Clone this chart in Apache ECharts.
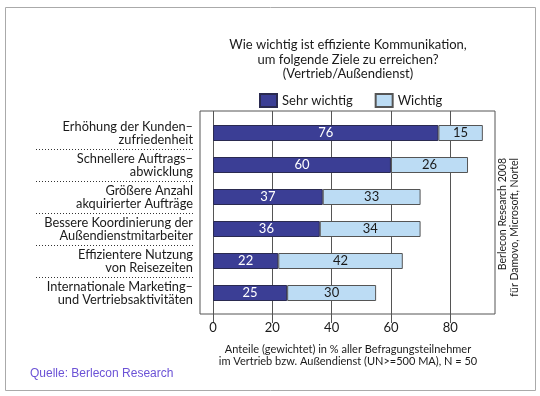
<!DOCTYPE html>
<html>
<head>
<meta charset="utf-8">
<script src="https://cdn.jsdelivr.net/npm/echarts@6/dist/echarts.min.js"></script>
<style>
  html, body { margin: 0; padding: 0; background: #fff; }
  #chart { width: 540px; height: 396px; }
</style>
</head>
<body>
<div id="chart"></div>
<script>
// data
var categories = [
  'Erhöhung der Kunden–\nzufriedenheit',
  'Schnellere Auftrags–\nabwicklung',
  'Größere Anzahl\nakquirierter Aufträge',
  'Bessere Koordinierung der\nAußendienstmitarbeiter',
  'Effizientere Nutzung\nvon Reisezeiten',
  'Internationale Marketing–\nund Vertriebsaktivitäten'
]
var sehrWichtig = [76, 60, 37, 36, 22, 25]
var wichtig = [15, 26, 33, 34, 42, 30]
var xTicks = [0, 20, 40, 60, 80]
var seriesNames = ['Sehr wichtig', 'Wichtig']

var FONT = 'Lato, "Open Sans", sans-serif'
var DARK = '#3b3e95'
var LIGHT = '#bcdcf4'
var TXT = '#1a1a1a'
// plot box spans a bit left of 0 and past 80
var X_MIN = -4.4, X_MAX = 95.1

var chart = echarts.init(document.getElementById('chart'))
chart.setOption({
  animation: false,
  backgroundColor: '#fff',
  textStyle: { fontFamily: FONT, color: TXT },
  legend: {
    data: seriesNames,
    icon: 'rect',
    left: 254, top: 88,
    itemWidth: 17, itemHeight: 13, itemGap: 22,
    textStyle: { fontSize: 13, color: TXT, fontFamily: FONT }
  },
  grid: [
    // frame with grid lines + ticks
    { left: 200, right: 45, top: 111, bottom: 82, show: true, borderColor: '#555', borderWidth: 1 },
    // bars
    { left: 200, right: 45, top: 117, height: 192 },
    // dotted separators under the labels
    { left: 36, width: 157, top: 117, height: 192 }
  ],
  xAxis: [
    {
      gridIndex: 0, type: 'value', min: X_MIN, max: X_MAX,
      axisLine: { show: false },
      axisTick: { show: true, customValues: xTicks, length: 9, lineStyle: { color: '#555' } },
      axisLabel: { customValues: xTicks, fontSize: 13, color: TXT, margin: 7, fontFamily: FONT },
      splitLine: { show: true, lineStyle: { color: '#555', width: 1 } }
    },
    { gridIndex: 1, type: 'value', min: X_MIN, max: X_MAX, show: false, splitLine: { show: false } },
    { gridIndex: 2, type: 'value', show: false, splitLine: { show: false } }
  ],
  yAxis: [
    { gridIndex: 0, type: 'value', show: false, splitLine: { show: false } },
    {
      gridIndex: 1, type: 'category', data: categories, inverse: true,
      axisLine: { show: false }, axisTick: { show: false },
      axisLabel: { fontSize: 12.8, lineHeight: 13, color: TXT, margin: 7, align: 'right', fontFamily: FONT }
    },
    {
      gridIndex: 2, type: 'category', data: categories, inverse: true,
      axisLine: { show: false }, axisTick: { show: false }, axisLabel: { show: false },
      splitLine: { show: true, showMinLine: false, showMaxLine: false, lineStyle: { color: '#333', type: [1, 2], width: 1 } }
    }
  ],
  series: [
    {
      name: seriesNames[0], type: 'bar', stack: 'a', xAxisIndex: 1, yAxisIndex: 1,
      barWidth: 16, data: sehrWichtig,
      itemStyle: { color: DARK, borderColor: '#2a2a50', borderWidth: 1 },
      label: { show: true, position: 'inside', color: '#fff', fontSize: 13, fontFamily: FONT }
    },
    {
      name: seriesNames[1], type: 'bar', stack: 'a', xAxisIndex: 1, yAxisIndex: 1,
      barWidth: 16, data: wichtig,
      itemStyle: { color: LIGHT, borderColor: '#555', borderWidth: 1 },
      label: { show: true, position: 'inside', color: TXT, fontSize: 13, fontFamily: FONT }
    }
  ],
  graphic: [
    { type: 'rect', shape: { x: 5.5, y: 7.5, width: 530, height: 383 }, style: { fill: null, stroke: '#aaa', lineWidth: 1 }, silent: true, z: -1 },
    { type: 'text', x: 348, y: 38, style: {
        text: 'Wie wichtig ist effiziente Kommunikation,\num folgende Ziele zu erreichen?\n(Vertrieb/Außendienst)',
        font: '13px ' + FONT, fill: TXT, textAlign: 'center', lineHeight: 14.5 } },
    { type: 'text', x: 348, y: 343, style: {
        text: 'Anteile (gewichtet) in % aller Befragungsteilnehmer\nim Vertrieb bzw. Außendienst (UN>=500 MA), N = 50',
        font: '11px ' + FONT, fill: TXT, textAlign: 'center', lineHeight: 12.5 } },
    { type: 'text', x: 30, y: 368, style: {
        text: 'Quelle: Berlecon Research', font: '12px "Liberation Sans", Arial, sans-serif', fill: '#6b52d6' } },
    { type: 'text', x: 503, y: 158, rotation: Math.PI / 2, style: {
        text: 'Berlecon Research 2008', font: '10.5px ' + FONT, fill: TXT, textAlign: 'right', textVerticalAlign: 'middle' } },
    { type: 'text', x: 515, y: 158, rotation: Math.PI / 2, style: {
        text: 'für Damovo, Microsoft, Nortel', font: '10.5px ' + FONT, fill: TXT, textAlign: 'right', textVerticalAlign: 'middle' } }
  ]
})
</script>
</body>
</html>
